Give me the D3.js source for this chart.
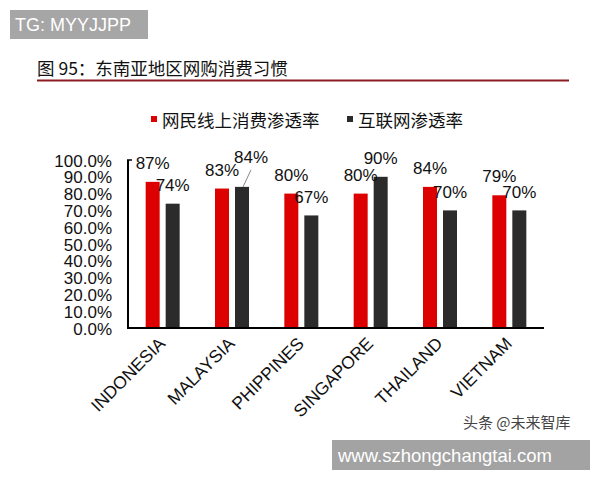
<!DOCTYPE html>
<html><head><meta charset="utf-8">
<script src="https://cdn.jsdelivr.net/npm/d3@7"></script>
<style>
html,body{margin:0;padding:0;background:#fff;}
svg{display:block;}
text{font-family:"Liberation Sans",Arial,"Noto Sans CJK SC",sans-serif;}
.cjk{font-family:"Noto Sans CJK SC","Liberation Sans",sans-serif;}
</style></head>
<body>
<svg id="c" width="600" height="480"></svg>
<script>
const categories = ["INDONESIA","MALAYSIA","PHIPPINES","SINGAPORE","THAILAND","VIETNAM"];
const seriesNames = ["网民线上消费渗透率","互联网渗透率"];
const onlineShopping = [87,83,80,80,84,79];
const internet = [74,84,67,90,70,70];
const yTicks = [0,10,20,30,40,50,60,70,80,90,100];
const colors = ["#dd0000","#2b2b2b"];

const svg = d3.select("#c");
svg.append("rect").attr("width",600).attr("height",480).attr("fill","#fff");

// TG box
svg.append("rect").attr("x",10).attr("y",10).attr("width",138).attr("height",29).attr("fill","#a6a6a6");
svg.append("text").attr("x",15).attr("y",31).attr("fill","#fff").attr("font-size",18).text("TG: MYYJJPP");

// title
svg.append("text").attr("class","cjk").attr("x",37).attr("y",75).attr("font-size",17.5).attr("fill","#111")
  .text("图 95：东南亚地区网购消费习惯");
svg.append("line").attr("x1",37).attr("x2",569).attr("y1",80.5).attr("y2",80.5).attr("stroke","#8b1c22").attr("stroke-width",2);

// legend
const legendX = [151,347];
seriesNames.forEach((n,i)=>{
  svg.append("rect").attr("x",legendX[i]).attr("y",116).attr("width",6).attr("height",6).attr("fill",colors[i]);
  svg.append("text").attr("class","cjk").attr("x",legendX[i]+11).attr("y",127).attr("font-size",17.5).attr("fill","#111").text(n);
});

// scales
const x = d3.scaleBand().domain(categories).range([128,544]).paddingInner(0).paddingOuter(0);
const y = d3.scaleLinear().domain([0,100]).range([328,160]);
const barW = 14, gap = 6;
const x1 = d3.scaleOrdinal().domain([0,1]).range([-gap/2-barW, gap/2]);

// y axis labels
const yAxis = d3.axisLeft(y).tickValues(yTicks).tickSize(0).tickPadding(0).tickFormat(d=>d3.format(".1f")(d)+"%");
const ga = svg.append("g").attr("transform","translate(112,0)").call(yAxis);
ga.select(".domain").remove();
ga.selectAll("text").attr("font-size",17).attr("fill","#111").attr("font-family","'Liberation Sans',Arial,sans-serif").attr("dy","0.36em");

// bars
const series = [onlineShopping, internet];
series.forEach((vals,si)=>{
  svg.append("g").selectAll("rect").data(vals).join("rect")
    .attr("x",(d,i)=>x(categories[i])+x.bandwidth()/2+x1(si))
    .attr("y",d=>y(d)).attr("width",barW).attr("height",d=>y(0)-y(d))
    .attr("fill",colors[si]);
});

// axes lines
svg.append("line").attr("x1",128).attr("x2",128).attr("y1",y(100)).attr("y2",y(0)+1).attr("stroke","#000").attr("stroke-width",2);
svg.append("line").attr("x1",127).attr("x2",132).attr("y1",y(100)).attr("y2",y(100)).attr("stroke","#000").attr("stroke-width",1.5);
svg.append("line").attr("x1",127).attr("x2",544).attr("y1",y(0)).attr("y2",y(0)).attr("stroke","#000").attr("stroke-width",2);

// data labels
series.forEach((vals,si)=>{
  vals.forEach((v,i)=>{
    const cx = x(categories[i])+x.bandwidth()/2+x1(si)+barW/2;
    let lx = cx, ly = y(v)-19;
    if(si===1 && i===1){
      lx = cx+9; ly = y(v)-30;
      svg.append("line").attr("x1",cx+1).attr("y1",y(v)).attr("x2",cx+9).attr("y2",y(v)-17)
        .attr("stroke","#888").attr("stroke-width",1);
    }
    svg.append("text").attr("x",lx).attr("y",ly).attr("dy","0.36em").attr("text-anchor","middle")
      .attr("font-size",17).attr("fill","#111").text(v+"%");
  });
});

// x labels
categories.forEach(c=>{
  const cx = x(c)+x.bandwidth()/2;
  svg.append("text").attr("transform",`translate(${cx-5},${y(0)+8}) rotate(-45)`)
    .attr("text-anchor","end").attr("dy","0.7em").attr("font-size",17.5).attr("fill","#111").text(c);
});

// watermarks
svg.append("text").attr("class","cjk").attr("x",463).attr("y",428).attr("font-size",15).attr("fill","#444").text("头条 @未来智库");
svg.append("rect").attr("x",332).attr("y",440).attr("width",258).attr("height",30).attr("fill","#a3a3a3");
svg.append("text").attr("x",338).attr("y",462).attr("font-size",18.5).attr("fill","#fff").text("www.szhongchangtai.com");
</script>
</body></html>
